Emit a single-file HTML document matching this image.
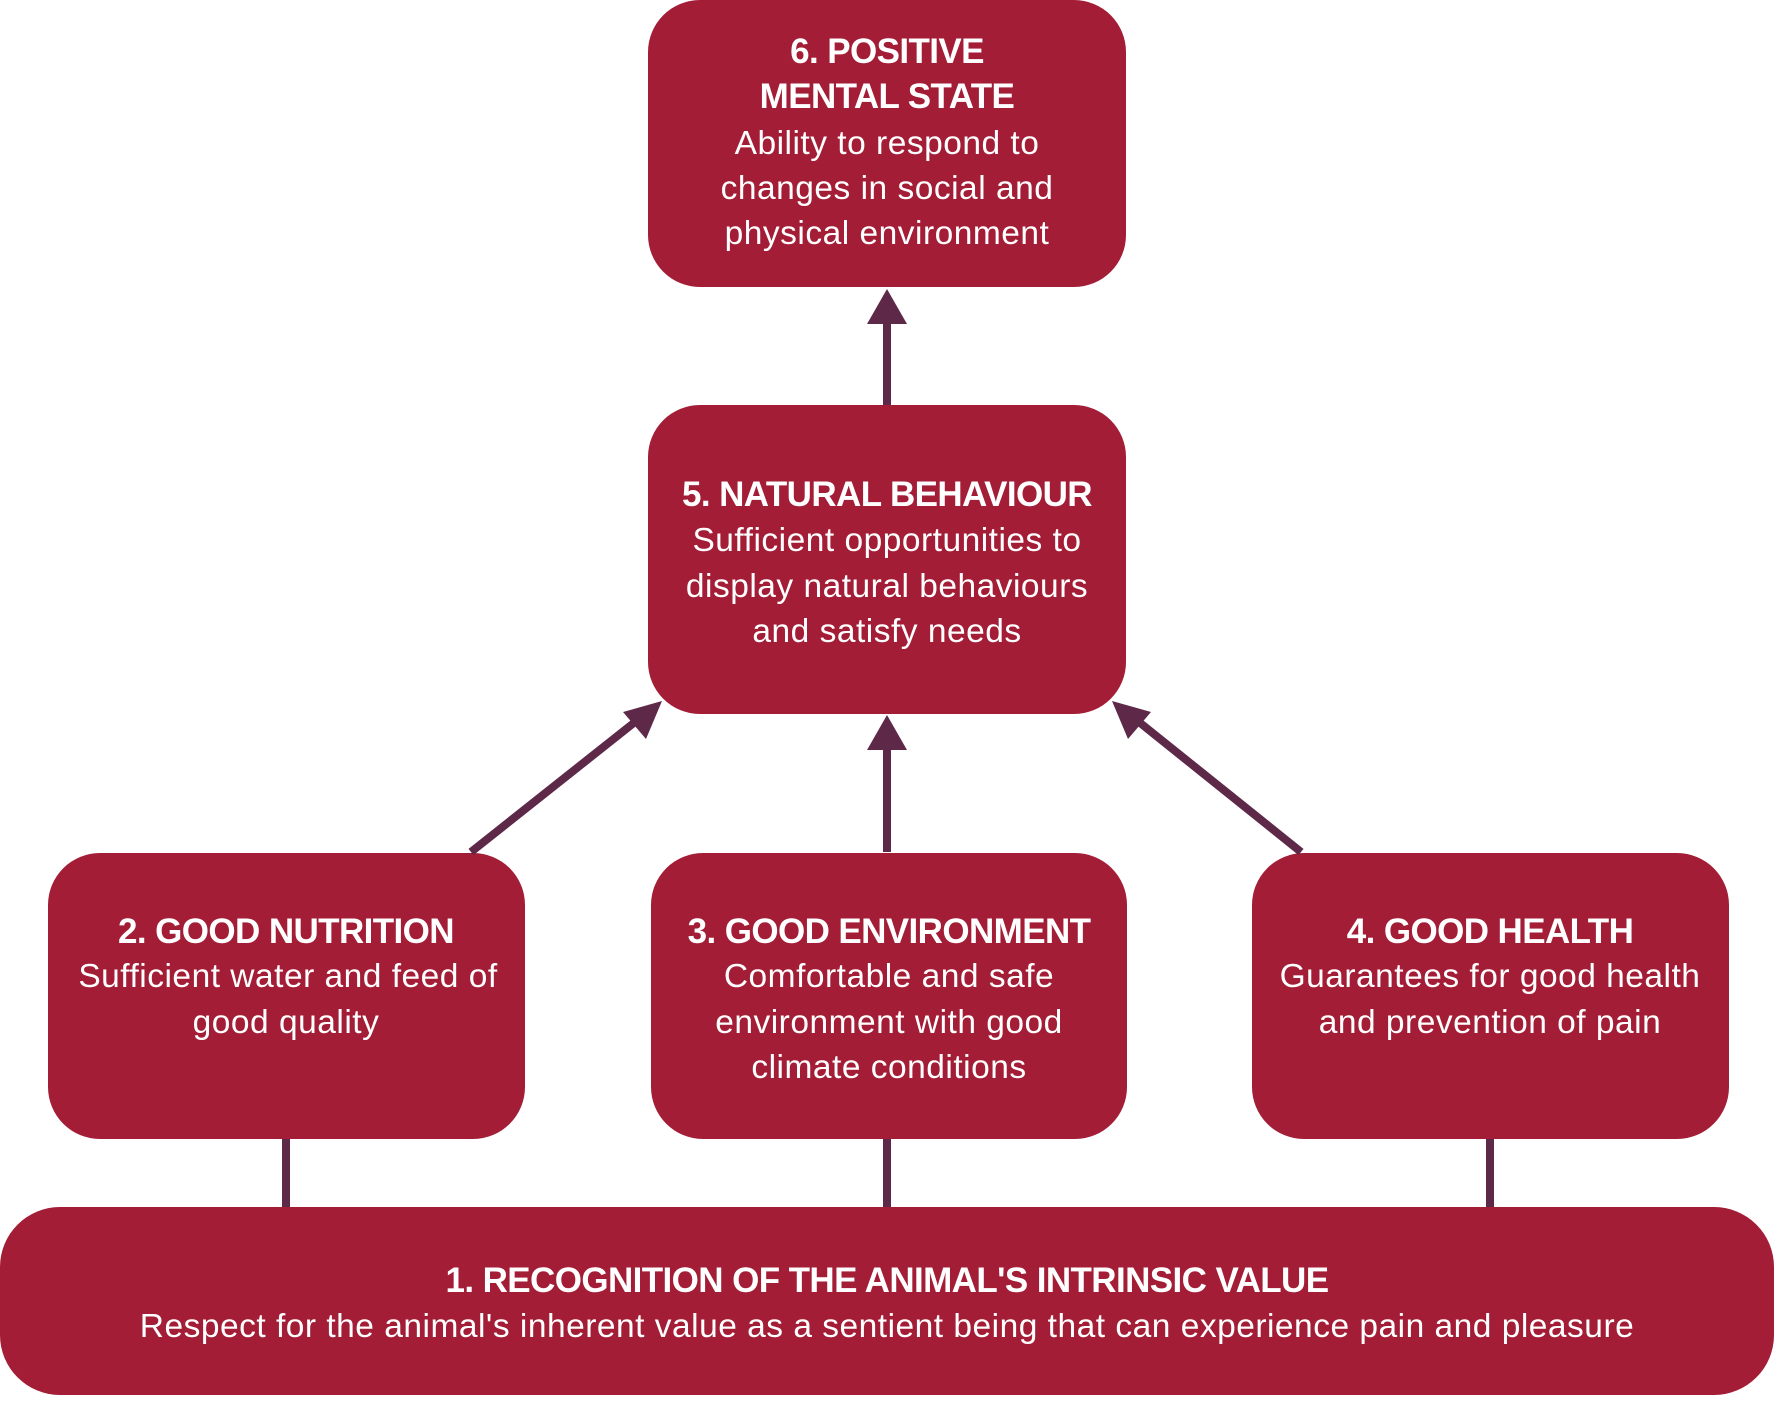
<!DOCTYPE html>
<html><head><meta charset="utf-8"><style>
html,body{margin:0;padding:0;background:#fff;}
svg{display:block}
text{font-family:"Liberation Sans",sans-serif;fill:#fff;text-anchor:middle;}
.t{font-weight:bold;font-size:35px;letter-spacing:-0.6px}
.b{font-size:33.5px;letter-spacing:0.5px}
</style></head><body>
<svg width="1774" height="1405" viewBox="0 0 1774 1405" xmlns="http://www.w3.org/2000/svg">
<g fill="#a31d36">
<rect x="648" y="0" width="478" height="287" rx="52"/>
<rect x="648" y="405" width="478" height="309" rx="52"/>
<rect x="48" y="853" width="477" height="286" rx="52"/>
<rect x="651" y="853" width="476" height="286" rx="52"/>
<rect x="1252" y="853" width="477" height="286" rx="52"/>
<rect x="0" y="1207" width="1774" height="188" rx="60"/>
</g>
<g stroke="#5e2849" stroke-width="8" fill="none">
<line x1="887" y1="405" x2="887" y2="320"/>
<line x1="887" y1="852" x2="887" y2="745"/>
<line x1="471" y1="852" x2="640" y2="718"/>
<line x1="1301" y1="852" x2="1134" y2="718"/>
<line x1="286" y1="1139" x2="286" y2="1207"/>
<line x1="887" y1="1139" x2="887" y2="1207"/>
<line x1="1490" y1="1139" x2="1490" y2="1207"/>
</g>
<g fill="#5e2849">
<polygon points="887,289 867,324 907,324"/>
<polygon points="887,715 867,750 907,750"/>
<polygon points="662,701 623,712 646,739"/>
<polygon points="1112,701 1128,739 1151,712"/>
</g>
<text class="t" x="887" y="63">6. POSITIVE</text>
<text class="t" x="887" y="108">MENTAL STATE</text>
<text class="b" x="887" y="154">Ability to respond to</text>
<text class="b" x="887" y="199">changes in social and</text>
<text class="b" x="887" y="244">physical environment</text>

<text class="t" x="887" y="506">5. NATURAL BEHAVIOUR</text>
<text class="b" x="887" y="551">Sufficient opportunities to</text>
<text class="b" x="887" y="597">display natural behaviours</text>
<text class="b" x="887" y="642">and satisfy needs</text>

<text class="t" x="286" y="943">2. GOOD NUTRITION</text>
<text class="b" x="288" y="987">Sufficient water and feed of</text>
<text class="b" x="286" y="1033">good quality</text>

<text class="t" x="889" y="943">3. GOOD ENVIRONMENT</text>
<text class="b" x="889" y="987">Comfortable and safe</text>
<text class="b" x="889" y="1033">environment with good</text>
<text class="b" x="889" y="1078">climate conditions</text>

<text class="t" x="1490" y="943">4. GOOD HEALTH</text>
<text class="b" x="1490" y="987">Guarantees for good health</text>
<text class="b" x="1490" y="1033">and prevention of pain</text>

<text class="t" x="887" y="1292">1. RECOGNITION OF THE ANIMAL'S INTRINSIC VALUE</text>
<text class="b" x="887" y="1337">Respect for the animal's inherent value as a sentient being that can experience pain and pleasure</text>
</svg>
</body></html>
